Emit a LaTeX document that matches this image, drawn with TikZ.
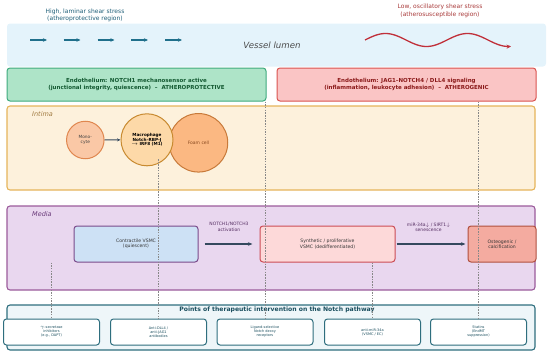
\documentclass[tikz,border=0pt]{standalone}
\usepackage{fontspec}
\setmainfont{DejaVu Sans}
\usetikzlibrary{arrows.meta}
\definecolor{lumenfill}{HTML}{E4F3FB}
\definecolor{teal}{HTML}{1F6F8B}
\definecolor{tealtext}{HTML}{1F5F78}
\definecolor{redtext}{HTML}{A83A3A}
\definecolor{wavecol}{HTML}{C0303A}
\definecolor{greenfill}{HTML}{AEE4C8}
\definecolor{greenline}{HTML}{3DAA7D}
\definecolor{greentext}{HTML}{145A32}
\definecolor{redfill}{HTML}{FAC5C5}
\definecolor{redline}{HTML}{D9534F}
\definecolor{redbold}{HTML}{8B1A1A}
\definecolor{intimafill}{HTML}{FDF1DC}
\definecolor{intimaline}{HTML}{E5B45A}
\definecolor{intimatext}{HTML}{A07A40}
\definecolor{monofill}{HTML}{FAC8A6}
\definecolor{monoline}{HTML}{E0874F}
\definecolor{macfill}{HTML}{FDD9A8}
\definecolor{macline}{HTML}{C88A30}
\definecolor{foamfill}{HTML}{FBB882}
\definecolor{foamline}{HTML}{C87A3A}
\definecolor{foamtext}{HTML}{8A4A20}
\definecolor{mediafill}{HTML}{E9D7EF}
\definecolor{medialine}{HTML}{9B5B9B}
\definecolor{mediatext}{HTML}{6A3A7A}
\definecolor{contrfill}{HTML}{CDE1F5}
\definecolor{contrline}{HTML}{7A4A8A}
\definecolor{synfill}{HTML}{FDD9D9}
\definecolor{synline}{HTML}{CC4C55}
\definecolor{osteofill}{HTML}{F4ABA0}
\definecolor{osteoline}{HTML}{B0503F}
\definecolor{darkarrow}{HTML}{34495E}
\definecolor{intfill}{HTML}{EEF6F9}
\definecolor{intline}{HTML}{2E6E7E}
\definecolor{inttext}{HTML}{1B4F5F}
\definecolor{dashcol}{HTML}{888888}
\begin{document}
\begin{tikzpicture}[x=1pt,y=-1pt,
  box/.style={draw, rounded corners=3pt, line width=1pt, inner sep=0pt, align=center},
  layer/.style={box, line width=1.1pt},
  cell/.style={circle, draw, line width=1pt, inner sep=0pt, align=center},
  subbox/.style={box, fill=white, draw=intline, minimum width=96pt, minimum height=26pt,
     text=inttext, font=\fontsize{3.5}{4.0}\selectfont},
  flowarrow/.style={-{Stealth[length=4.5pt,width=3.5pt]}, line width=1.4pt, draw=darkarrow},
  lumenarrow/.style={-{Stealth[length=4pt,width=3.5pt]}, line width=1.3pt, draw=teal},
  guide/.style={draw=dashcol, line width=0.6pt, dash pattern=on 1.5pt off 1.2pt},
  tiny/.style={font=\fontsize{4.5}{5.4}\selectfont, align=center, inner sep=0pt}
]
\useasboundingbox (0,0) rectangle (550,356);

% top labels
\node[font=\fontsize{6}{7}\selectfont, text=tealtext, align=center, inner sep=0pt] (hitxt) at (85,15) {High, laminar shear stress\\(atheroprotective region)};
\node[font=\fontsize{6}{7.5}\selectfont, text=redtext, align=center, inner sep=0pt] (lotxt) at (440,11) {Low, oscillatory shear stress\\(atherosusceptible region)};

% lumen
\node[box, draw=none, fill=lumenfill, minimum width=539pt, minimum height=43pt] (lumen) at (276.5,45) {};
\node[font=\fontsize{8.6}{10}\selectfont\itshape, text=black!70, inner sep=0pt] (lumentxt) at (272,45) {Vessel lumen};
\foreach \a in {30,63.5,97.5,131,165}{
  \draw[lumenarrow] (\a,40) -- ++(17,0);
}
\draw[wavecol, line width=1.3pt, -{Stealth[length=4.5pt,width=4pt]}]
  plot[domain=365:511, samples=100, variable=\t] (\t,{40-6.5*sin((\t-365)/82*360)});

% endothelium
\node[box, fill=greenfill, draw=greenline, minimum width=259pt, minimum height=33pt,
  text=greentext, font=\bfseries\fontsize{5.5}{6.4}\selectfont] (endoP) at (136.5,84.5)
  {Endothelium: NOTCH1 mechanosensor active\\(junctional integrity, quiescence)\ \ --\ \ ATHEROPROTECTIVE};
\node[box, fill=redfill, draw=redline, minimum width=259pt, minimum height=33pt,
  text=redbold, font=\bfseries\fontsize{5.5}{6.4}\selectfont] (endoA) at (406.5,84.5)
  {Endothelium: JAG1--NOTCH4 / DLL4 signaling\\(inflammation, leukocyte adhesion)\ \ --\ \ ATHEROGENIC};

% intima
\node[layer, fill=intimafill, draw=intimaline, minimum width=528pt, minimum height=84pt] (intima) at (271,148) {};
\node[font=\fontsize{6.5}{7}\selectfont\itshape, text=intimatext, inner sep=0pt, anchor=west] (intimalbl) at (32,114) {Intima};
\node[cell, fill=monofill, draw=monoline, minimum size=37.5pt, font=\fontsize{4.3}{5}\selectfont, text=black!75] (mono) at (85.3,140) {Mono-\\cyte};
\node[cell, fill=foamfill, draw=foamline, minimum size=58.5pt, font=\fontsize{4.5}{5}\selectfont, text=foamtext] (foam) at (198.5,142.8) {Foam cell};
\node[cell, fill=macfill, draw=macline, minimum size=52pt, font=\bfseries\fontsize{4.2}{4.5}\selectfont] (mac) at (147,139.8) {Macrophage\\Notch--RBP-J\\$\rightarrow$ IRF8 (M1)};
\draw[-{Stealth[length=3.5pt,width=3pt]}, line width=1.1pt, draw=darkarrow] (mono) -- (mac);

% media
\node[layer, fill=mediafill, draw=medialine, minimum width=528pt, minimum height=84pt] (media) at (271,248) {};
\node[font=\fontsize{6.5}{7}\selectfont\itshape, text=mediatext, inner sep=0pt, anchor=west] (medialbl) at (32,214) {Media};
\node[box, fill=contrfill, draw=contrline, minimum width=124pt, minimum height=36pt, font=\fontsize{4.6}{5.3}\selectfont, text=black!80] (contr) at (136,244) {Contractile VSMC\\(quiescent)};
\node[box, fill=synfill, draw=synline, minimum width=135pt, minimum height=36pt, font=\fontsize{4.6}{5.3}\selectfont, text=black!80] (syn) at (327.5,244) {Synthetic / proliferative\\VSMC (dedifferentiated)};
\node[box, fill=osteofill, draw=osteoline, minimum width=68pt, minimum height=36pt, font=\fontsize{4.6}{5.3}\selectfont, text=black!80] (osteo) at (502,244) {Osteogenic /\\calcification};
\draw[flowarrow] ([xshift=6pt]contr.east) -- ([xshift=-7pt]syn.west);
\draw[flowarrow] ([xshift=1pt]syn.east) -- ([xshift=-2pt]osteo.west);
\node[tiny, text=mediatext!80!black] (lbl1) at (229,227) {NOTCH1/NOTCH3\\activation};
\node[tiny, text=mediatext!80!black] (lbl2) at (428.5,227) {miR-34a$\downarrow$ / SIRT1$\downarrow$\\senescence};

% interventions
\node[layer, fill=intfill, draw=intline, minimum width=528pt, minimum height=45pt] (interv) at (271,327.5) {};
\node[font=\bfseries\fontsize{6.1}{7}\selectfont, text=inttext, inner sep=0pt] (intlbl) at (277,309.5) {Points of therapeutic intervention on the Notch pathway};
\node[subbox] (s1) at (51.5,332) {$\gamma$-secretase\\inhibitors\\(e.g., DAPT)};
\node[subbox] (s2) at (158.5,332) {Anti-DLL4 /\\anti-JAG1\\antibodies};
\node[subbox] (s3) at (265,332) {Ligand-selective\\Notch decoy\\receptors};
\node[subbox] (s4) at (372.5,332) {anti-miR-34a\\(VSMC / EC)};
\node[subbox] (s5) at (478.5,332) {Statins\\(EndMT\\suppression)};

% guide lines
\coordinate (g2) at (158.5,159);
\draw[guide] (s1.north |- contr.south) -- (s1.north);
\draw[guide] (g2) -- (s2.north);
\draw[guide] (s3.north |- endoP.south) -- (s3.north);
\draw[guide] (s4.north |- syn.south) -- (s4.north);
\draw[guide] (s5.north |- endoA.south) -- (s5.north);
\end{tikzpicture}
\end{document}
